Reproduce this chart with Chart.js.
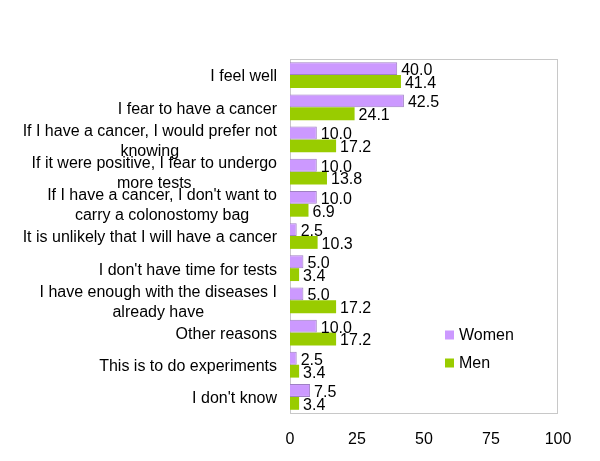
<!DOCTYPE html>
<html>
<head>
<meta charset="utf-8">
<script src="https://cdn.jsdelivr.net/npm/chart.js@4/dist/chart.umd.min.js"></script>
<style>
  html, body { margin: 0; padding: 0; background: #fff; }
  #wrap { width: 600px; height: 461px; }
</style>
</head>
<body>
<div id="wrap"><canvas id="grafico" width="600" height="461"></canvas></div>
<script>
// categorias (linhas quebradas como no original)
var categorias = [
  ['I feel well'],
  ['I fear to have a cancer'],
  ['If I have a cancer, I would prefer not', 'knowing'],
  ['If it were positive, I fear to undergo', 'more tests'],
  ["If I have a cancer, I don't want to", 'carry a colonostomy bag'],
  ['It is unlikely that I will have a cancer'],
  ["I don't have time for tests"],
  ['I have enough with the diseases I', 'already have'],
  ['Other reasons'],
  ['This is to do experiments'],
  ["I don't know"]
];
var mulheres = [40.0, 42.5, 10.0, 10.0, 10.0, 2.5, 5.0, 5.0, 10.0, 2.5, 7.5];
var homens   = [41.4, 24.1, 17.2, 13.8, 6.9, 10.3, 3.4, 17.2, 17.2, 3.4, 3.4];
var ticksX   = [0, 25, 50, 75, 100];

var fonte = "16px 'Liberation Sans', Arial, sans-serif";

// rótulos do eixo Y, valores, moldura e legenda
var extras = {
  id: 'extras',
  beforeDatasetsDraw: function (chart) {
    var ctx = chart.ctx, a = chart.chartArea;
    ctx.save();
    ctx.strokeStyle = '#c8c8c8';
    ctx.lineWidth = 1;
    ctx.strokeRect(a.left + 0.5, a.top + 0.5, a.right - a.left - 1, a.bottom - a.top);
    ctx.restore();
  },
  afterDatasetsDraw: function (chart) {
    var ctx = chart.ctx, a = chart.chartArea, y = chart.scales.y;
    ctx.save();
    ctx.font = fonte;
    ctx.fillStyle = '#000';
    ctx.textBaseline = 'middle';

    // rótulos das categorias: bloco alinhado à direita, linhas centralizadas
    var alt = 20;
    categorias.forEach(function (linhas, i) {
      var yc = y.getPixelForValue(i) + 2;
      var maxW = 0;
      linhas.forEach(function (t) { maxW = Math.max(maxW, ctx.measureText(t).width); });
      var cx = a.left - 13 - maxW / 2;
      ctx.textAlign = 'center';
      linhas.forEach(function (t, k) {
        ctx.fillText(t, cx, yc + (k - (linhas.length - 1) / 2) * alt);
      });
    });

    // valores ao lado das barras
    ctx.textAlign = 'left';
    chart.data.datasets.forEach(function (ds, di) {
      var meta = chart.getDatasetMeta(di);
      meta.data.forEach(function (bar, i) {
        ctx.fillText(ds.data[i].toFixed(1), bar.x + 4, bar.y + 2);
      });
    });

    // legenda dentro da área
    var lx = a.left + 155, ly = a.top + 276;
    chart.data.datasets.forEach(function (ds, di) {
      var yy = ly + di * 28;
      ctx.fillStyle = ds.backgroundColor;
      ctx.fillRect(lx, yy - 4.5, 9, 9);
      ctx.fillStyle = '#000';
      ctx.fillText(ds.label, lx + 14, yy + 1);
    });
    ctx.restore();
  }
};

var meuGrafico = new Chart(document.getElementById('grafico').getContext('2d'), {
  type: 'bar',
  data: {
    labels: categorias.map(function (l) { return l.join(' '); }),
    datasets: [
      { label: 'Women', data: mulheres, backgroundColor: '#cc99ff', borderColor: '#9f80c4', borderWidth: 1 },
      { label: 'Men', data: homens, backgroundColor: '#99cc00', borderColor: '#99cc00', borderWidth: 0 }
    ]
  },
  options: {
    indexAxis: 'y',
    responsive: false,
    animation: false,
    layout: { padding: { left: 290, top: 59, right: 42, bottom: 13 } },
    datasets: { bar: { categoryPercentage: 0.8, barPercentage: 1.0 } },
    plugins: { legend: { display: false }, tooltip: { enabled: false } },
    scales: {
      x: {
        min: 0, max: 100,
        afterBuildTicks: function (s) { s.ticks = ticksX.map(function (v) { return { value: v }; }); },
        afterFit: function (s) { s.height = 35; },
        grid: { display: false, drawTicks: false },
        border: { display: false },
        ticks: { color: '#000', padding: 17, maxRotation: 0, font: { family: "'Liberation Sans', Arial, sans-serif", size: 16 } }
      },
      y: {
        display: false,
        grid: { display: false }
      }
    }
  },
  plugins: [extras]
});
</script>
</body>
</html>
